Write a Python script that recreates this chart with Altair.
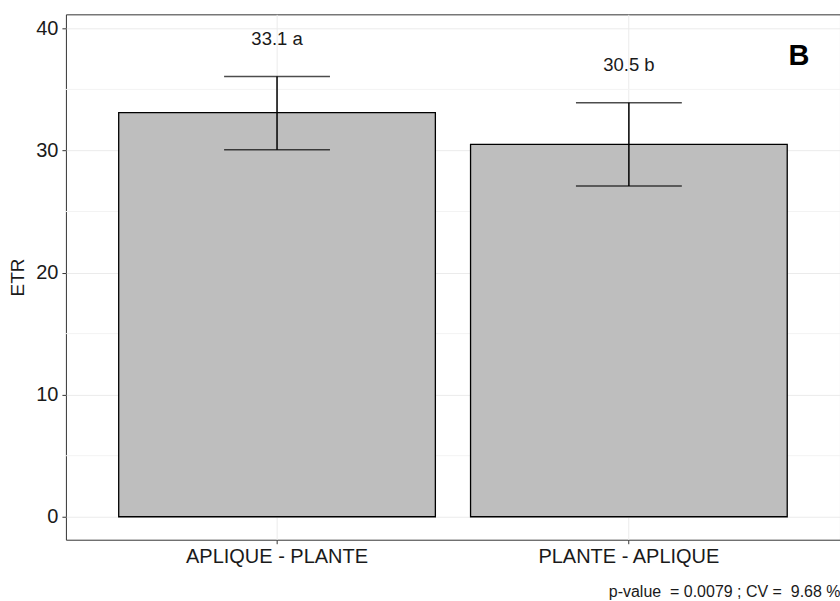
import altair as alt
import pandas as pd

categories = ["APLIQUE - PLANTE", "PLANTE - APLIQUE"]
means = [33.1, 30.5]
err_lo = [30.05, 27.1]
err_hi = [36.05, 33.9]
label_y = [39.1, 37.0]
labels = ["33.1 a", "30.5 b"]
major_ticks = [0, 10, 20, 30, 40]
minor_ticks = [5, 15, 25, 35]
caption = "p-value \u00a0= 0.0079 ; CV = \u00a09.68 %"

df = pd.DataFrame({
    "cat": categories,
    "mean": means,
    "lo": err_lo,
    "hi": err_hi,
    "ly": label_y,
    "label": labels,
    "base": [0, 0],
})
minor_df = pd.DataFrame({"v": minor_ticks})

FONT = "Liberation Sans"
ydom = [-1.88, 41.15]

x = alt.X("cat:N", sort=categories, title=None,
          scale=alt.Scale(paddingInner=0.1, paddingOuter=0.15),
          axis=alt.Axis(labelAngle=0, labelFontSize=20, labelColor="#1a1a1a",
                        labelFont=FONT, tickColor="#333333", tickSize=4,
                        labelPadding=3, labelLimit=400, domain=False, grid=True,
                        gridColor="#EBEBEB", bandPosition=0.5))
yscale = alt.Scale(domain=ydom, nice=False, zero=False)

base = alt.Chart(df)

minor = alt.Chart(minor_df).mark_rule(color="#F3F3F3", strokeWidth=1).encode(
    y=alt.Y("v:Q", scale=yscale)
)

bars = base.mark_bar(fill="#BEBEBE", stroke="black", strokeWidth=1.3).encode(
    x=x,
    y=alt.Y("mean:Q", scale=yscale, title="ETR",
            axis=alt.Axis(values=major_ticks, labelFontSize=20, labelColor="#1a1a1a",
                          labelFont=FONT, titleFont=FONT, titleFontSize=19,
                          titleFontWeight="normal", titleColor="#1a1a1a",
                          titlePadding=8, tickColor="#333333", tickSize=4,
                          labelPadding=4, domain=False, gridColor="#EBEBEB")),
    y2="base:Q",
)

rule = base.mark_rule(color="black", strokeWidth=1.5).encode(
    x=alt.X("cat:N", sort=categories),
    y="lo:Q",
    y2="hi:Q",
)
tick_hi = base.mark_tick(color="black", thickness=1.5, size=106).encode(
    x=alt.X("cat:N", sort=categories),
    y="hi:Q",
)
tick_lo = base.mark_tick(color="black", thickness=1.5, size=106).encode(
    x=alt.X("cat:N", sort=categories),
    y="lo:Q",
)
text = base.mark_text(fontSize=18.5, font=FONT, color="#1a1a1a", baseline="middle").encode(
    x=alt.X("cat:N", sort=categories),
    y="ly:Q",
    text="label:N",
)
letter = alt.Chart(pd.DataFrame({"t": ["B"]})).mark_text(
    fontSize=29, fontWeight="bold", font=FONT, color="black", baseline="middle"
).encode(
    x=alt.value(734),
    y=alt.value(42),
    text="t:N",
)

chart = alt.layer(minor, bars, rule, tick_hi, tick_lo, text, letter).properties(
    width=775,
    height=526,
    autosize=alt.AutoSizeParams(type="none"),
    padding={"left": 66, "top": 14, "right": 0, "bottom": 61},
    background="white",
    title=alt.TitleParams(caption, orient="bottom", anchor="end", fontSize=16,
                          font=FONT, fontWeight="normal", color="#1a1a1a", offset=17),
).configure_view(stroke="#333333", strokeWidth=1)

chart.save("out.html", embed_options={"renderer": "svg", "actions": False})
